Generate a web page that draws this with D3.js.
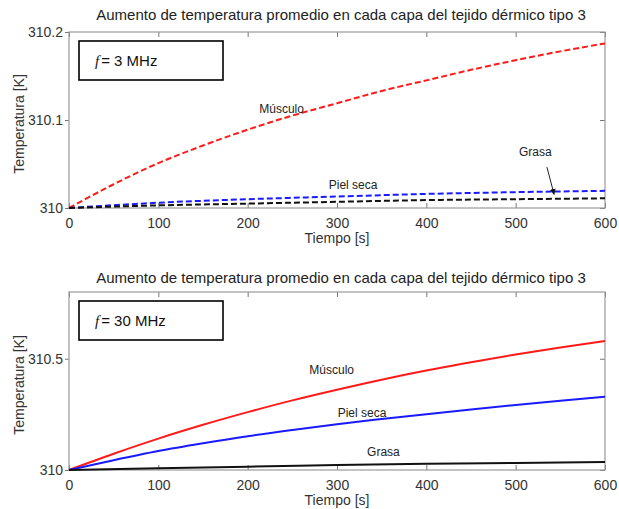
<!DOCTYPE html>
<html lang="es">
<head>
<meta charset="UTF-8">
<title>Aumento de temperatura</title>
<script src="https://d3js.org/d3.v7.min.js"></script>
<style>
  body { margin: 0; background: #fff; }
  svg { font-family: "Liberation Sans", Arial, sans-serif; }
  .frame { fill: none; stroke: #9a9a9a; stroke-width: 1.2; }
  .tick line { stroke: #777; }
  .tick text { fill: #333; font-size: 14px; }
  .domain { display: none; }
  .title { font-size: 15px; fill: #222; }
  .alabel { font-size: 14px; fill: #333; }
  .note { font-size: 12px; fill: #222; }
</style>
</head>
<body>
<script>

// tiempo [s]
var tiempo = [0, 50, 100, 150, 200, 250, 300, 350, 400, 450, 500, 550, 600];
var tiempoGrueso = [0, 100, 200, 300, 400, 500, 600];
var xTicks = [0, 100, 200, 300, 400, 500, 600];

// f = 3 MHz (aumento sobre 310 K)
var musculo3 = [0, 0.027, 0.051, 0.071, 0.089, 0.105, 0.119, 0.133, 0.145, 0.157, 0.168, 0.178, 0.187];
var pielSeca3 = [0, 0.006, 0.010, 0.013, 0.016, 0.018, 0.0195];
var grasa3 = [0, 0.003, 0.005, 0.007, 0.009, 0.010, 0.011];
var yTicks3 = [310, 310.1, 310.2];

// f = 30 MHz
var musculo30 = [0, 0.073, 0.141, 0.203, 0.26, 0.313, 0.361, 0.406, 0.447, 0.484, 0.519, 0.551, 0.58];
var pielSeca30 = [0, 0.044, 0.085, 0.12, 0.152, 0.18, 0.206, 0.229, 0.251, 0.272, 0.292, 0.311, 0.329];
var grasa30 = [0, 0.008, 0.015, 0.022, 0.028, 0.032, 0.036];
var yTicks30 = [310, 310.5];

var titulo = "Aumento de temperatura promedio en cada capa del tejido dérmico tipo 3";

var svg = d3.select("body").append("svg")
    .attr("width", 619)
    .attr("height", 509);

svg.append("defs").append("marker")
    .attr("id", "flecha")
    .attr("viewBox", "0 0 10 10")
    .attr("refX", 9).attr("refY", 5)
    .attr("markerWidth", 6).attr("markerHeight", 6)
    .attr("orient", "auto")
  .append("path")
    .attr("d", "M0,0 L10,5 L0,10 z")
    .attr("fill", "#111");

function panel(p) {
    var x = d3.scaleLinear().domain([0, 600]).range([69, 605]);
    var y = d3.scaleLinear().domain(p.yDomain).range([p.bottom, p.top]);
    var g = svg.append("g");

    g.append("text").attr("class", "title")
        .attr("x", 341).attr("y", p.titleY)
        .attr("text-anchor", "middle")
        .text(titulo);

    // ejes: ticks hacia dentro abajo/arriba/derecha, hacia fuera a la izquierda
    g.append("g").attr("transform", "translate(0," + p.bottom + ")")
        .call(d3.axisBottom(x).tickValues(xTicks).tickSizeInner(-5).tickSizeOuter(0).tickPadding(10));
    g.append("g").attr("transform", "translate(0," + p.top + ")")
        .call(d3.axisTop(x).tickValues(xTicks).tickSizeInner(-5).tickSizeOuter(0).tickFormat(""));
    g.append("g").attr("transform", "translate(69,0)")
        .call(d3.axisLeft(y).tickValues(p.yTicks).tickSizeInner(4).tickSizeOuter(0).tickPadding(2)
            .tickFormat(d3.format("~f")));
    g.append("g").attr("transform", "translate(605,0)")
        .call(d3.axisRight(y).tickValues(p.yTicks).tickSizeInner(-5).tickSizeOuter(0).tickFormat(""));

    g.append("rect").attr("class", "frame")
        .attr("x", 69).attr("y", p.top)
        .attr("width", 605 - 69).attr("height", p.bottom - p.top);

    g.append("text").attr("class", "alabel")
        .attr("x", 337).attr("y", p.bottom + 35)
        .attr("text-anchor", "middle")
        .text("Tiempo [s]");
    g.append("text").attr("class", "alabel")
        .attr("transform", "translate(24," + ((p.top + p.bottom) / 2 + 4) + ") rotate(-90)")
        .attr("text-anchor", "middle")
        .text("Temperatura [K]");

    var line = d3.line()
        .x(function(d) { return x(d[0]); })
        .y(function(d) { return y(310 + d[1]); })
        .curve(d3.curveMonotoneX);

    p.series.forEach(function(s) {
        g.append("path")
            .datum(s.t.map(function(t, i) { return [t, s.v[i]]; }))
            .attr("d", line)
            .attr("fill", "none")
            .attr("stroke", s.color)
            .attr("stroke-width", 2)
            .attr("stroke-dasharray", p.dashed ? "6,3" : null);
    });

    // recuadro de frecuencia
    g.append("rect")
        .attr("x", 79).attr("y", p.top + 9)
        .attr("width", 144).attr("height", 39)
        .attr("fill", "#fff").attr("stroke", "#000").attr("stroke-width", 1.6);
    var lab = g.append("text")
        .attr("x", 95).attr("y", p.top + 34)
        .style("font-size", "15px").attr("fill", "#111");
    lab.append("tspan").style("font-family", "'Liberation Serif', serif").style("font-style", "italic").text("f");
    lab.append("tspan").attr("dx", 2).text("= " + p.freq);

    p.notes.forEach(function(n) {
        g.append("text").attr("class", "note")
            .attr("x", x(n.t)).attr("y", y(n.v))
            .attr("text-anchor", "middle")
            .text(n.text);
    });
    return {x: x, y: y, g: g};
}

var top3 = panel({
    top: 32, bottom: 208, titleY: 20, yDomain: [310, 310.2], yTicks: yTicks3,
    freq: "3 MHz", dashed: true,
    series: [
        {t: tiempo, v: musculo3, color: "#ff1a1a"},
        {t: tiempoGrueso, v: pielSeca3, color: "#1a1aff"},
        {t: tiempoGrueso, v: grasa3, color: "#111"}
    ],
    notes: [
        {t: 238, v: 310.108, text: "Músculo"},
        {t: 318, v: 310.0215, text: "Piel seca"},
        {t: 522, v: 310.059, text: "Grasa"}
    ]
});

// flecha de "Grasa" hacia su curva
top3.g.append("line")
    .attr("x1", top3.x(535)).attr("y1", top3.y(310.0465))
    .attr("x2", top3.x(543)).attr("y2", top3.y(310.0155))
    .attr("stroke", "#222").attr("stroke-width", 1)
    .attr("marker-end", "url(#flecha)");

panel({
    top: 292, bottom: 470, titleY: 283, yDomain: [310, 310.8], yTicks: yTicks30,
    freq: "30 MHz", dashed: false,
    series: [
        {t: tiempo, v: musculo30, color: "#ff1a1a"},
        {t: tiempo, v: pielSeca30, color: "#1a1aff"},
        {t: tiempoGrueso, v: grasa30, color: "#111"}
    ],
    notes: [
        {t: 294, v: 310.43, text: "Músculo"},
        {t: 328, v: 310.24, text: "Piel seca"},
        {t: 352, v: 310.065, text: "Grasa"}
    ]
});

</script>
</body>
</html>
